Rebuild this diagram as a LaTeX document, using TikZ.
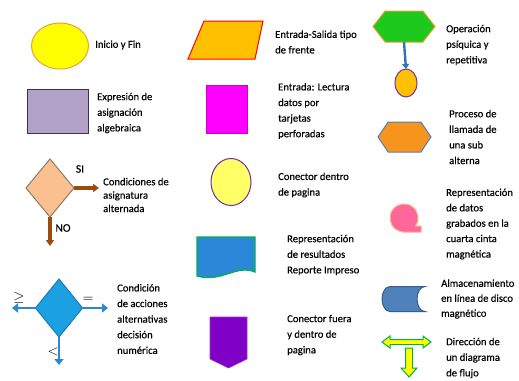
\documentclass[tikz,border=0pt]{standalone}
\usepackage{fontspec}
\setmainfont{Carlito}
\newfontfamily\labelfont{Carlito}[FakeBold=0.35]
\usetikzlibrary{arrows.meta, positioning, shapes.geometric, shapes.symbols}

\definecolor{startYellow}{HTML}{FFFF00}
\definecolor{startEdge}{HTML}{F0A030}
\definecolor{exprFill}{HTML}{B3A2C7}
\definecolor{exprEdge}{HTML}{3F3151}
\definecolor{condFill}{HTML}{FAC090}
\definecolor{condEdge}{HTML}{8C7B6B}
\definecolor{brownLine}{HTML}{9C4A0E}
\definecolor{decFill}{HTML}{1BA1E2}
\definecolor{decEdge}{HTML}{1F77B4}
\definecolor{decArrow}{HTML}{2B86D0}
\definecolor{ioFill}{HTML}{FFC000}
\definecolor{cardFill}{HTML}{FF00FF}
\definecolor{cardEdge}{HTML}{D000D0}
\definecolor{connFill}{HTML}{FFFF66}
\definecolor{connEdge}{HTML}{7030A0}
\definecolor{docBlue}{HTML}{2B88D8}
\definecolor{docGreen}{HTML}{00B050}
\definecolor{offFill}{HTML}{8000C8}
\definecolor{offEdge}{HTML}{9933CC}
\definecolor{hexGreen}{HTML}{1DC91D}
\definecolor{hexEdge}{HTML}{E0A030}
\definecolor{loopBlue}{HTML}{2E75B6}
\definecolor{subOrange}{HTML}{F7941D}
\definecolor{subEdge}{HTML}{4F81BD}
\definecolor{tapePink}{HTML}{FF6699}
\definecolor{tapeEdge}{HTML}{F9B384}
\definecolor{drumBlue}{HTML}{4F81BD}
\definecolor{drumEdge}{HTML}{385D8A}

\begin{document}
\begin{tikzpicture}[x=1pt, y=-1pt]
		\tikzstyle{Label} = [anchor=west, align=left, inner sep=0, font=\labelfont\fontsize{10.6}{15.6}\selectfont]
		\tikzstyle{Mark} = [inner sep=0, font=\labelfont\fontsize{11.5}{12}\selectfont]
		\tikzstyle{Sign} = [inner sep=0, font=\fontsize{14}{14}\selectfont]
		\tikzstyle{Symbol} = [inner sep=0, outer sep=0, line width=1pt]
		\tikzstyle{brownArrow} = [line width=3.2pt, draw=brownLine, -{Triangle[width=8pt,length=6pt]}]
		\tikzstyle{blueArrow} = [line width=2.6pt, draw=decArrow, -{Triangle[width=9pt,length=6pt]}]
		
		\useasboundingbox (0,0) rectangle (519,380);
		
		% first column
		\node (inicio) [Symbol, ellipse, minimum width=57, minimum height=46, fill=startYellow, draw=startEdge] at (60,46) {};
		\node (inicioL) [Label] at (95,45) {Inicio y Fin};
		
		\node (expresion) [Symbol, rectangle, minimum width=61, minimum height=44, fill=exprFill, draw=exprEdge] at (57.5,111) {};
		\node (expresionL) [Label] at (97,113) {Expresión de\\asignación\\algebraica};
		
		\node (condicion) [Symbol, diamond, minimum width=48, minimum height=58, fill=condFill, draw=condEdge] at (50,188) {};
		\coordinate (siEnd) at (99,188);
		\coordinate (noEnd) at (50,246);
		\draw[brownArrow] (condicion.east) -- (siEnd);
		\draw[brownArrow] (condicion.south) -- (noEnd);
		\node (si) [Mark] at (80,169) {SI};
		\node (no) [Mark] at (63,228) {NO};
		\node (condicionL) [Label, font=\labelfont\fontsize{10.6}{13.4}\selectfont] at (103,195) {Condiciones de\\asignatura\\alternada};
		
		\node (decision) [Symbol, diamond, minimum width=47, minimum height=58, fill=decFill, draw=decEdge] at (59,308) {};
		\coordinate (mayorEnd) at (12,308);
		\coordinate (igualEnd) at (108,308);
		\coordinate (menorEnd) at (59,365);
		\draw[blueArrow] (decision.west) -- (mayorEnd);
		\draw[blueArrow] (decision.east) -- (igualEnd);
		\draw[blueArrow] (decision.south) -- (menorEnd);
		\node (mayor) [Sign] at (19,298) {$\geq$};
		\node (igual) [Sign] at (88,300) {$=$};
		\node (menor) [Sign] at (53,352) {$<$};
		\node (decisionL) [Label] at (117,319) {Condición\\de acciones\\alternativas\\decisión\\numérica};
		
		% second column
		\draw[Symbol, fill=ioFill, draw=red] (204,21) -- (263,21) -- (255,59) -- (188,59) -- cycle;
		\node (entradaL) [Label] at (275,42) {Entrada-Salida tipo\\de frente};
		
		\node (tarjeta) [Symbol, rectangle, minimum width=41, minimum height=48, fill=cardFill, draw=cardEdge, line width=0.6pt] at (226.5,109) {};
		\node (tarjetaL) [Label] at (278,111) {Entrada: Lectura\\datos por\\tarjetas\\perforadas};
		
		\node (conector) [Symbol, ellipse, minimum width=40, minimum height=47, fill=connFill, draw=connEdge] at (231,182) {};
		\node (conectorL) [Label] at (278,185) {Conector dentro\\de pagina};
		
		\draw[Symbol, fill=docBlue, draw=docGreen, line width=1.3pt] (197,237) -- (255,237) -- (255,272) .. controls (236,264) and (222,283) .. (197,276) -- cycle;
		\node (reporteL) [Label] at (287,255) {Representación\\de resultados\\Reporte Impreso};
		
		\node (fuera) [Symbol, signal, signal to=south, signal pointer angle=128, minimum width=37, minimum height=42, fill=offFill, draw=offEdge, line width=0.6pt] at (228.5,338) {};
		\node (fueraL) [Label] at (287,335) {Conector fuera\\y dentro de\\pagina};
		
		% third column
		\node (operacion) [Symbol, signal, signal to=east and west, signal pointer angle=104, minimum width=62, minimum height=31, fill=hexGreen, draw=hexEdge] at (404,26.5) {};
		\node (repite) [Symbol, ellipse, minimum width=22, minimum height=28, fill=ioFill, draw=connEdge] at (406,83) {};
		\draw[line width=2.4pt, draw=loopBlue, -{Triangle[width=7pt,length=5pt]}] (operacion.south) -- (repite.north);
		\node (operacionL) [Label] at (446,45) {Operación\\psíquica y\\repetitiva};
		
		\node (llamada) [Symbol, signal, signal to=east and west, signal pointer angle=112, minimum width=53, minimum height=30, fill=subOrange, draw=subEdge] at (404.5,137) {};
		\node (llamadaL) [Label] at (449,137) {Proceso de\\llamada de\\una sub\\alterna};
		
		\draw[Symbol, fill=tapePink, draw=tapeEdge] (404,232) -- (421,232) -- (421,226) -- (415.5,226) arc[start angle=35, end angle=-270, radius=14] -- cycle;
		\node (cintaL) [Label, font=\labelfont\fontsize{10.6}{15.4}\selectfont] at (446,224) {Representación\\de datos\\grabados en la\\cuarta cinta\\magnética};
		
		\draw[Symbol, fill=drumBlue, draw=drumEdge] (390,286.5) -- (425,286.5) arc[start angle=-90, end angle=-270, x radius=8, y radius=12.5] -- (390,311.5) arc[start angle=90, end angle=270, x radius=8, y radius=12.5] -- cycle;
		\node (discoL) [Label, font=\labelfont\fontsize{10.6}{15}\selectfont] at (441,299) {Almacenamiento\\en línea de disco\\magnético};
		
		\draw[Symbol, fill=startYellow, draw=docGreen] (382,342) -- (390,336) -- (390,339.5) -- (423,339.5) -- (423,336) -- (431,342) -- (423,348) -- (423,344.5) -- (390,344.5) -- (390,348) -- cycle;
		\draw[Symbol, fill=startYellow, draw=docGreen] (405.5,348) -- (412.5,348) -- (412.5,368) -- (417,368) -- (409,377) -- (401,368) -- (405.5,368) -- cycle;
		\node (flujoL) [Label] at (446,358) {Dirección de\\un diagrama\\de flujo};
\end{tikzpicture}
\end{document}
